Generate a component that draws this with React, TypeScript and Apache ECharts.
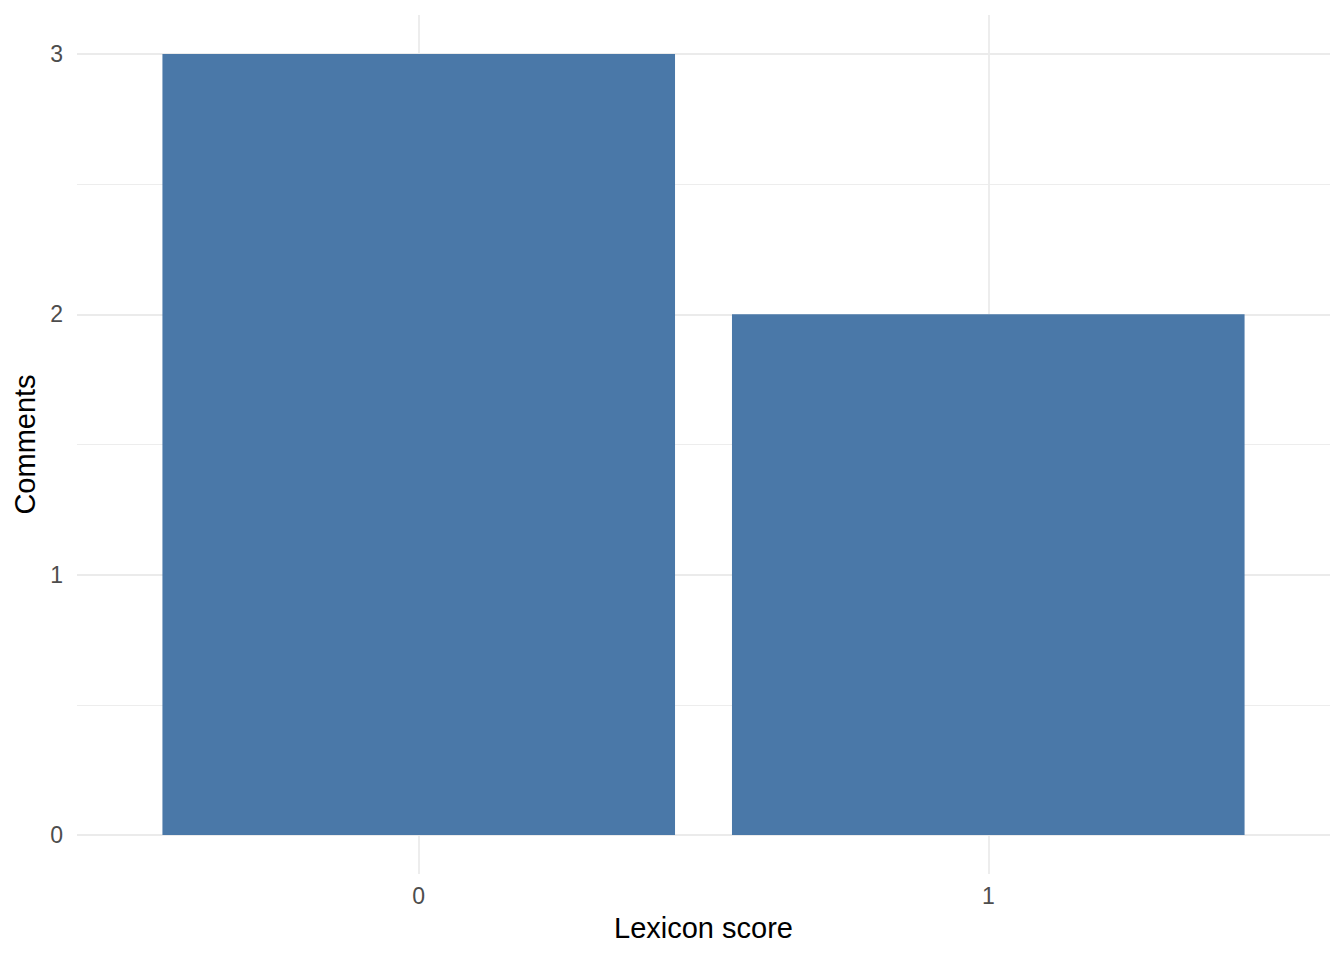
import React, { useEffect, useRef } from "react";
import * as echarts from "echarts";

// ── Data ──
const scores = [0, 1];
const comments = [3, 2];
const xTitle = "Lexicon score";
const yTitle = "Comments";

const FONT = "'Liberation Sans', Arial, sans-serif";
const GRID = "#ebebeb";
const BAR = "#4a78a8";

const intLabel = (v: number) => (Number.isInteger(v) ? String(v) : "");

export default function App() {
  const chartRef = useRef<HTMLDivElement>(null);

  useEffect(() => {
    if (!chartRef.current) return;
    const chart = echarts.init(chartRef.current, undefined, { renderer: "svg" });

    const option: echarts.EChartsOption = {
      animation: false,
      backgroundColor: "#ffffff",
      textStyle: { fontFamily: FONT },
      grid: { left: 77, right: 14, top: 15, bottom: 86, containLabel: false },

      xAxis: {
        type: "value",
        min: -0.6,
        max: 1.6,
        minInterval: 1,
        name: xTitle,
        nameLocation: "middle",
        nameGap: 39,
        nameTextStyle: { color: "#000000", fontSize: 29, fontFamily: FONT },
        axisLine: { show: false },
        axisTick: { show: false },
        axisLabel: {
          color: "#4d4d4d",
          fontSize: 23,
          margin: 10,
          fontFamily: FONT,
          showMinLabel: false,
          showMaxLabel: false,
          formatter: intLabel,
        },
        splitLine: {
          show: true,
          showMinLine: false,
          showMaxLine: false,
          lineStyle: { color: GRID, width: 1.8 },
        },
      } as any,

      yAxis: [
        {
          type: "value",
          min: -0.15,
          max: 3.15,
          minInterval: 1,
          name: yTitle,
          nameLocation: "middle",
          nameGap: 36,
          nameRotate: 90,
          nameTextStyle: { color: "#000000", fontSize: 29, fontFamily: FONT },
          axisLine: { show: false },
          axisTick: { show: false },
          axisLabel: {
            color: "#4d4d4d",
            fontSize: 23,
            margin: 14,
            fontFamily: FONT,
            showMinLabel: false,
            showMaxLabel: false,
            formatter: intLabel,
          },
          splitLine: {
            show: true,
            showMinLine: false,
            showMaxLine: false,
            lineStyle: { color: GRID, width: 1.8 },
          },
        },
        // minor grid lines (every 0.5), no labels
        {
          type: "value",
          min: -0.15,
          max: 3.15,
          minInterval: 0.5,
          maxInterval: 0.5,
          axisLine: { show: false },
          axisTick: { show: false },
          axisLabel: { show: false },
          splitLine: {
            show: true,
            showMinLine: false,
            showMaxLine: false,
            lineStyle: { color: GRID, width: 0.9 },
          },
        },
      ] as any,

      series: [
        {
          type: "bar",
          yAxisIndex: 0,
          barWidth: "90%",
          itemStyle: { color: BAR },
          data: scores.map((s, i) => [s, comments[i]]),
        },
      ],
    };

    chart.setOption(option);
    return () => chart.dispose();
  }, []);

  return (
    <div
      ref={chartRef}
      style={{ position: "fixed", left: 0, top: 0, width: 1344, height: 960 }}
    />
  );
}
